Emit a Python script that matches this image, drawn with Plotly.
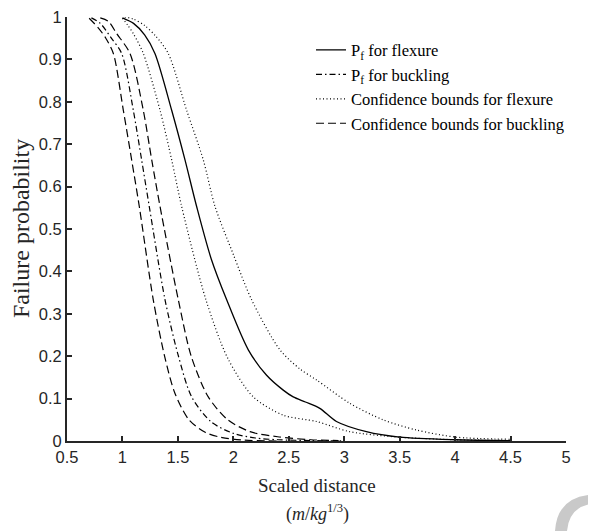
import plotly.graph_objects as go

# Pf for flexure (solid)
flex_x = [1.00, 1.10, 1.20, 1.293, 1.444, 1.564, 1.669, 1.80, 1.94, 2.135, 2.30, 2.45, 2.54, 2.65, 2.78, 2.93, 3.20, 3.50, 4.00, 4.50]
flex_y = [0.998, 0.985, 0.958, 0.914, 0.78, 0.663, 0.553, 0.43, 0.333, 0.215, 0.155, 0.12, 0.104, 0.092, 0.077, 0.046, 0.022, 0.009, 0.003, 0.001]

# Pf for buckling (dash-dot)
buck_x = [0.72, 0.80, 0.90, 0.993, 1.098, 1.173, 1.242, 1.384, 1.50, 1.624, 1.80, 2.00, 2.20, 2.40, 2.70, 3.00]
buck_y = [0.998, 0.985, 0.95, 0.914, 0.78, 0.663, 0.553, 0.333, 0.205, 0.104, 0.045, 0.018, 0.007, 0.003, 0.001, 0.0]

# Confidence bounds for flexure (dotted)
flex_up_x = [1.02, 1.10, 1.20, 1.30, 1.413, 1.579, 1.729, 1.835, 2.00, 2.165, 2.42, 2.60, 2.75, 3.05, 3.35, 3.65, 4.01, 4.50]
flex_up_y = [1.0, 0.995, 0.98, 0.955, 0.914, 0.78, 0.663, 0.553, 0.44, 0.333, 0.215, 0.17, 0.144, 0.089, 0.05, 0.026, 0.009, 0.004]
flex_lo_x = [1.00, 1.05, 1.10, 1.188, 1.339, 1.444, 1.534, 1.753, 1.95, 2.18, 2.45, 2.75, 3.05, 3.50, 4.00, 4.50]
flex_lo_y = [0.997, 0.98, 0.96, 0.914, 0.78, 0.663, 0.553, 0.333, 0.195, 0.104, 0.061, 0.046, 0.022, 0.009, 0.003, 0.001]

# Confidence bounds for buckling (long dash)
buck_lo_x = [0.70, 0.78, 0.85, 0.918, 1.008, 1.083, 1.152, 1.278, 1.38, 1.474, 1.60, 1.75, 1.90, 2.10, 2.40]
buck_lo_y = [0.997, 0.975, 0.95, 0.914, 0.78, 0.663, 0.553, 0.333, 0.20, 0.112, 0.05, 0.02, 0.008, 0.002, 0.0]
buck_up_x = [0.80, 0.872, 0.95, 1.068, 1.188, 1.264, 1.339, 1.504, 1.62, 1.774, 1.95, 2.15, 2.40, 2.70, 2.95]
buck_up_y = [0.998, 0.99, 0.96, 0.914, 0.78, 0.663, 0.553, 0.333, 0.20, 0.104, 0.05, 0.022, 0.01, 0.003, 0.001]

legend_names = ["P<sub>f</sub> for flexure", "P<sub>f</sub> for buckling",
                "Confidence bounds for flexure", "Confidence bounds for buckling"]
x_ticks = [0.5, 1, 1.5, 2, 2.5, 3, 3.5, 4, 4.5, 5]
x_tick_labels = ["0.5", "1", "1.5", "2", "2.5", "3", "3.5", "4", "4.5", "5"]
y_ticks = [0, 0.1, 0.2, 0.3, 0.4, 0.5, 0.6, 0.7, 0.8, 0.9, 1]
y_tick_labels = ["0", "0.1", "0.2", "0.3", "0.4", "0.5", "0.6", "0.7", "0.8", "0.9", "1"]

LC = "black"
DOT = "1px,2.5px"
LDASH = "8px,4px"
DASHDOT = "6px,3px,1.5px,3px"
SM = 0.8

def line(dash, width=1.2):
    return dict(color=LC, width=width, dash=dash, shape="spline", smoothing=SM)

fig = go.Figure()
fig.add_trace(go.Scatter(x=flex_x, y=flex_y, mode="lines", name=legend_names[0], line=line("solid", 1.3)))
fig.add_trace(go.Scatter(x=buck_x, y=buck_y, mode="lines", name=legend_names[1], line=line(DASHDOT)))
fig.add_trace(go.Scatter(x=flex_up_x, y=flex_up_y, mode="lines", name=legend_names[2],
                         line=line(DOT), legendgroup="fb"))
fig.add_trace(go.Scatter(x=flex_lo_x, y=flex_lo_y, mode="lines", name=legend_names[2],
                         line=line(DOT), legendgroup="fb", showlegend=False))
fig.add_trace(go.Scatter(x=buck_lo_x, y=buck_lo_y, mode="lines", name=legend_names[3],
                         line=line(LDASH), legendgroup="bb"))
fig.add_trace(go.Scatter(x=buck_up_x, y=buck_up_y, mode="lines", name=legend_names[3],
                         line=line(LDASH), legendgroup="bb", showlegend=False))

axis_col = "#262626"
serif = "Liberation Serif, Times New Roman, serif"
# the page body has an 8px margin: shrink the figure so the plot area lands at x 67-566, y 17-441
fig.update_layout(
    width=588, height=523,
    margin=dict(l=59, r=30, t=9, b=90, autoexpand=False),
    plot_bgcolor="white", paper_bgcolor="white",
    showlegend=True,
    legend=dict(x=0.489, y=0.963, xanchor="left", yanchor="top",
                font=dict(family=serif, size=16.5, color="black"),
                bgcolor="rgba(0,0,0,0)", tracegroupgap=0, itemwidth=30),
    font=dict(family="Liberation Sans, Arial, sans-serif", color=axis_col),
)
fig.update_xaxes(range=[0.5, 5], tickmode="array", tickvals=x_ticks, ticktext=x_tick_labels,
                 ticks="inside", ticklen=5, tickwidth=1.5, tickcolor=axis_col,
                 showline=True, linewidth=2, linecolor=axis_col, showgrid=False, zeroline=False,
                 ticklabeloverflow="allow", automargin=False,
                 tickfont=dict(size=16.5, color=axis_col))
fig.update_yaxes(range=[0, 1], tickmode="array", tickvals=y_ticks, ticktext=y_tick_labels,
                 ticks="inside", ticklen=5, tickwidth=1.5, tickcolor=axis_col,
                 showline=True, linewidth=2, linecolor=axis_col, showgrid=False, zeroline=False,
                 ticklabeloverflow="allow", automargin=False,
                 tickfont=dict(size=16.5, color=axis_col))

fig.add_annotation(text="Failure probability", xref="paper", yref="paper", x=-0.092, y=0.5,
                   textangle=-90, showarrow=False, xanchor="center", yanchor="middle",
                   font=dict(family=serif, size=24, color="#262626"))
fig.add_annotation(text="Scaled distance", xref="paper", yref="paper", x=0.502, y=-0.106,
                   showarrow=False, xanchor="center", yanchor="middle",
                   font=dict(family=serif, size=19, color="#262626"))
fig.add_annotation(text="(<i>m</i>/<i>kg</i><sup>1/3</sup>)", xref="paper", yref="paper", x=0.502, y=-0.17,
                   showarrow=False, xanchor="center", yanchor="middle",
                   font=dict(family=serif, size=18, color="#262626"))

# light grey crescent mark in the lower right corner of the reference
def px(p):
    return (p - 67) / 499.0
def py(p):
    return (441 - p) / 424.0
crescent = (f"M {px(588)},{py(495)} Q {px(557)},{py(499)} {px(555)},{py(531)} "
            f"L {px(567)},{py(531)} Q {px(569)},{py(508)} {px(590)},{py(504)} Z")
fig.add_shape(type="path", path=crescent, xref="paper", yref="paper",
              fillcolor="#c9c9c9", line=dict(width=0), layer="above")

fig.write_html("out.html")
